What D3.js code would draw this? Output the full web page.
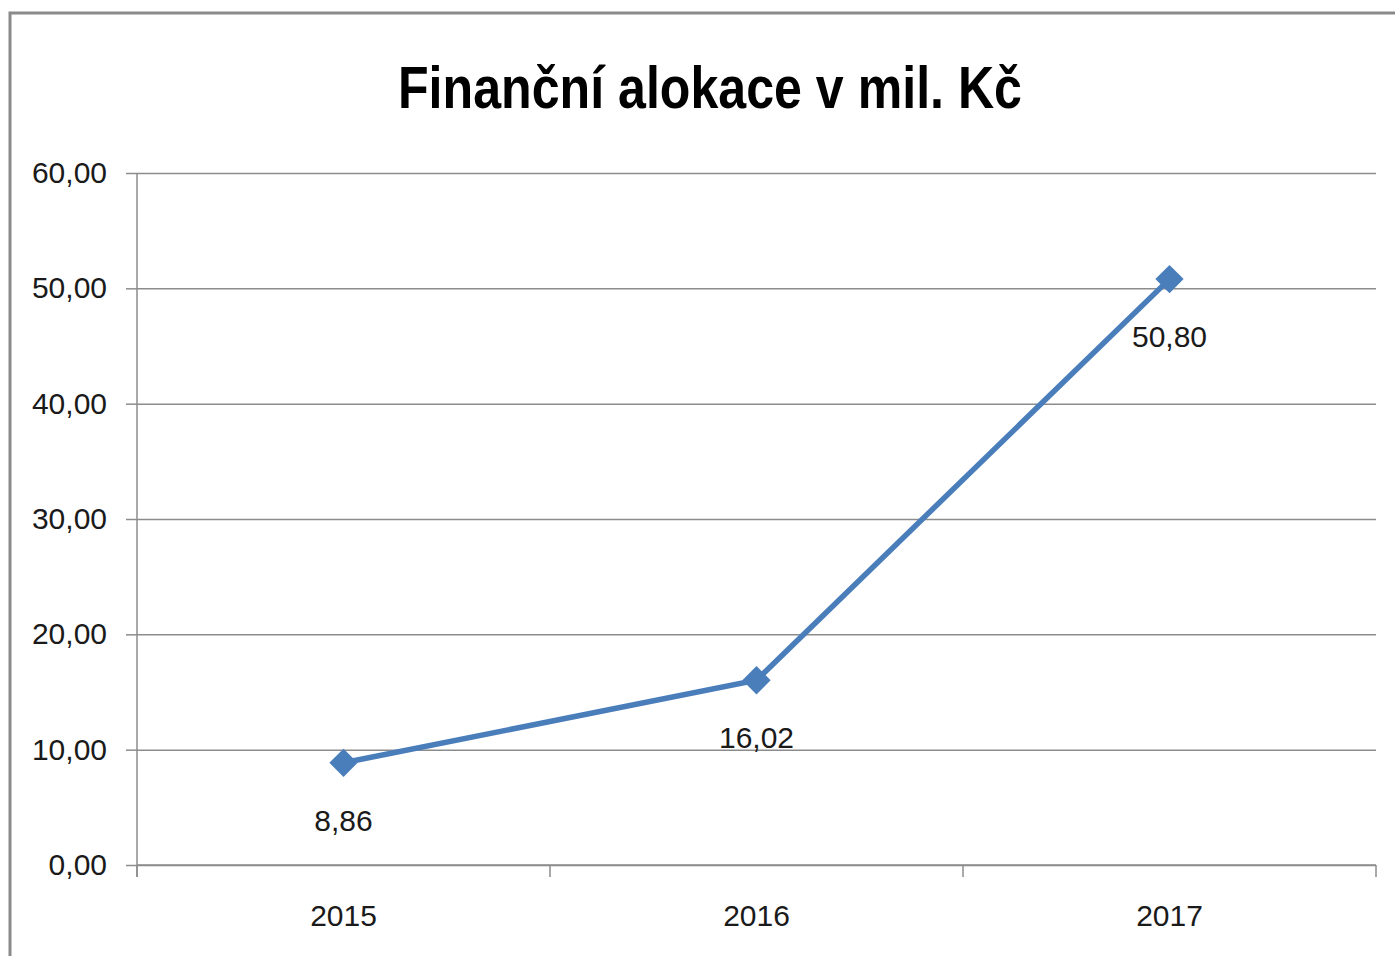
<!DOCTYPE html>
<html>
<head>
<meta charset="utf-8">
<script src="https://cdn.jsdelivr.net/npm/d3@7"></script>
<style>
  body { margin: 0; background: #fff; }
  svg text { font-family: "Liberation Sans", Arial, sans-serif; fill: #1a1a1a; }
  .axis path, .axis line { stroke: #8c8c8c; stroke-width: 1.5; }
  .grid line { stroke: #8c8c8c; stroke-width: 1.5; }
  .grid path { display: none; }
</style>
</head>
<body>
<svg id="chart" width="1395" height="956"></svg>
<script>
// chart data
var years = ["2015", "2016", "2017"];
var values = [8.86, 16.02, 50.80];
var yTicks = [0, 10, 20, 30, 40, 50, 60];
var chartTitle = "Finanční alokace v mil. Kč";

var svg = d3.select("#chart");
var margin = {top: 173, right: 19, bottom: 91, left: 137},
    width = 1395 - margin.left - margin.right,
    height = 956 - margin.top - margin.bottom;

var fmt = function(d) { return d3.format(".2f")(d).replace(".", ","); };

// outer frame (only left and top edges visible)
svg.append("path")
    .attr("d", "M10,956 L10,13 L1395,13")
    .attr("fill", "none")
    .attr("stroke", "#8a8a8a")
    .attr("stroke-width", 3);

// title
svg.append("text")
    .attr("x", 710)
    .attr("y", 108)
    .attr("text-anchor", "middle")
    .attr("textLength", 624)
    .attr("lengthAdjust", "spacingAndGlyphs")
    .style("font-family", "'Liberation Sans Narrow', 'Liberation Sans', Arial, sans-serif")
    .style("font-weight", "bold")
    .style("font-size", "60px")
    .style("fill", "#000")
    .text(chartTitle);

var g = svg.append("g")
    .attr("transform", "translate(" + margin.left + "," + margin.top + ")");

var x = d3.scaleBand()
    .domain(years)
    .range([0, width])
    .padding(0);

var y = d3.scaleLinear()
    .domain([0, 60])
    .range([height, 0]);

// gridlines
g.append("g")
    .attr("class", "grid")
    .call(d3.axisLeft(y).tickValues(yTicks).tickSize(-width).tickFormat(""));

// y axis
var yAxis = g.append("g")
    .attr("class", "axis")
    .call(d3.axisLeft(y).tickValues(yTicks).tickSize(11).tickSizeOuter(0).tickPadding(19).tickFormat(fmt));
yAxis.select(".domain").attr("d", "M0,0V" + (height + 12));
yAxis.selectAll("text").style("font-size", "30px").attr("fill", "#1a1a1a");

// x axis: tick marks at band boundaries
var xAxis = g.append("g")
    .attr("class", "axis")
    .attr("transform", "translate(0," + height + ")");
xAxis.append("line")
    .attr("x1", 0).attr("x2", width)
    .attr("y1", 0).attr("y2", 0);
xAxis.selectAll(".xtick")
    .data(years.concat(["end"]))
    .enter().append("line")
    .attr("class", "xtick")
    .attr("x1", function(d, i) { return i * x.step(); })
    .attr("x2", function(d, i) { return i * x.step(); })
    .attr("y1", 0).attr("y2", 12);
xAxis.selectAll(".xlabel")
    .data(years)
    .enter().append("text")
    .attr("class", "xlabel")
    .attr("x", function(d) { return x(d) + x.bandwidth() / 2; })
    .attr("y", 61)
    .attr("text-anchor", "middle")
    .style("font-size", "30px")
    .text(function(d) { return d; });

var points = years.map(function(yr, i) { return {year: yr, value: values[i]}; });

var line = d3.line()
    .x(function(d) { return x(d.year) + x.bandwidth() / 2; })
    .y(function(d) { return y(d.value); });

g.append("path")
    .datum(points)
    .attr("fill", "none")
    .attr("stroke", "#4a7ebb")
    .attr("stroke-width", 5.5)
    .attr("d", line);

// diamond markers
g.selectAll(".marker")
    .data(points)
    .enter().append("path")
    .attr("class", "marker")
    .attr("d", d3.symbol().type(d3.symbolSquare).size(400))
    .attr("fill", "#4a7ebb")
    .attr("transform", function(d) {
        return "translate(" + (x(d.year) + x.bandwidth() / 2) + "," + y(d.value) + ") rotate(45)";
    });

// data labels
g.selectAll(".dlabel")
    .data(points)
    .enter().append("text")
    .attr("class", "dlabel")
    .attr("x", function(d) { return x(d.year) + x.bandwidth() / 2; })
    .attr("y", function(d) { return y(d.value) + 68; })
    .attr("text-anchor", "middle")
    .style("font-size", "30px")
    .text(function(d) { return fmt(d.value); });
</script>
</body>
</html>
